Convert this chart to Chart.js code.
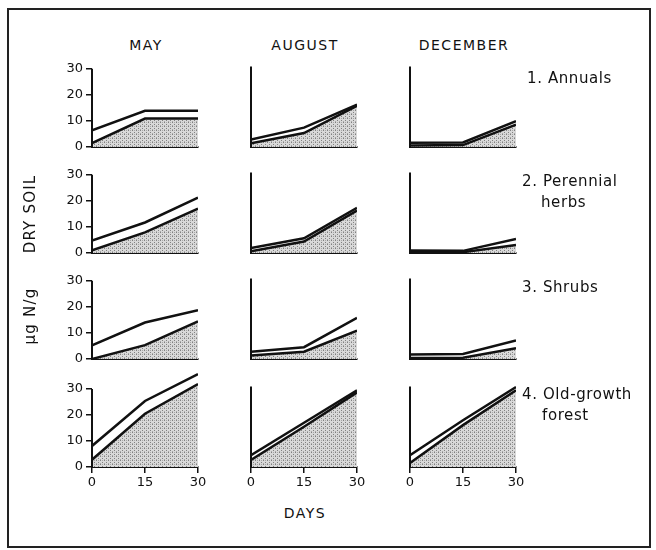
<!DOCTYPE html>
<html>
<head>
<meta charset="utf-8">
<script src="https://cdn.jsdelivr.net/npm/chart.js@4.4.1/dist/chart.umd.min.js"></script>
<style>
  body { margin: 0; background: #fff; }
  #fig { position: relative; width: 656px; height: 550px; font-family: "DejaVu Sans", sans-serif; color: #111; }
  #frame { position: absolute; left: 7px; top: 8px; width: 640px; height: 536px; border: 2px solid #222; }
  .lbl { position: absolute; font-size: 14px; white-space: nowrap; line-height: 1; }
  .c { transform: translate(-50%, -50%); letter-spacing: 1.5px; }
  .r { transform: translate(0, -50%); font-size: 15px; letter-spacing: 0.6px; }
  .v { transform: translate(-50%, -50%) rotate(-90deg); letter-spacing: 1.2px; font-size: 15px; }
  canvas { position: absolute; }
</style>
</head>
<body>
<div id="fig">
  <div id="frame"></div>
</div>
<script>
// x axis (days) and y ticks
const days = [0, 15, 30];
const yTicks = [0, 10, 20, 30];
const months = ["MAY", "AUGUST", "DECEMBER"];
const groups = [["1. Annuals"], ["2. Perennial", "herbs"], ["3. Shrubs"], ["4. Old-growth", "forest"]];

// ug N/g dry soil, one array per month (MAY, AUGUST, DECEMBER), values at days 0,15,30
// upper line = open line, lower line = stippled area
const annualsUpper = [[6.4, 13.9, 13.9], [2.8, 7.2, 15.8], [1.6, 1.7, 9.6]];
const annualsLower = [[1.5, 10.9, 10.9], [1.4, 5.2, 15.3], [0.6, 0.7, 8.3]];
const herbsUpper   = [[4.8, 11.7, 21.2], [1.9, 5.5, 16.8], [0.9, 0.8, 5.2]];
const herbsLower   = [[1.0, 7.9, 17.0], [0.6, 4.3, 15.8], [0.4, 0.3, 3.0]];
const shrubsUpper  = [[5.2, 14.0, 18.7], [2.7, 4.4, 15.3], [1.7, 1.9, 6.9]];
const shrubsLower  = [[0.0, 5.3, 14.4], [1.3, 2.7, 10.6], [0.4, 0.5, 4.0]];
const forestUpper  = [[8.1, 25.4, 35.7], [4.4, 16.5, 28.6], [4.4, 17.4, 29.8]];
const forestLower  = [[2.8, 20.5, 31.9], [2.6, 15.0, 27.8], [1.5, 15.6, 28.6]];

const upperRows = [annualsUpper, herbsUpper, shrubsUpper, forestUpper];
const lowerRows = [annualsLower, herbsLower, shrubsLower, forestLower];

// panel placement (page pixels)
const colX0 = [92, 251, 410];          // day 0
const colW = 106;                      // 0..30 days
const rowY0 = [147, 253, 359, 467];    // value 0
const px30 = 80.5;                     // height of 0..30
const rowMax = [30, 30, 30, 37];
const AXW = 32, AXH = 24, PADT = 8, PADR = 14;

const fig = document.getElementById("fig");
const ink = "#111";

// stipple fill
const pc = document.createElement("canvas");
pc.width = 4; pc.height = 4;
const p = pc.getContext("2d");
p.fillStyle = "#d9d9d9"; p.fillRect(0, 0, 4, 4);
p.fillStyle = "#808080"; p.fillRect(0, 0, 1, 1); p.fillRect(2, 2, 1, 1);
p.fillStyle = "#a8a8a8"; p.fillRect(2, 0, 1, 1); p.fillRect(0, 3, 1, 1);
const stipple = p.createPattern(pc, "repeat");

// y axis line only from 0 to 30
const axisLine = {
  id: "axisLine",
  afterDraw(chart) {
    const { ctx, scales: { x, y } } = chart;
    const x0 = x.getPixelForValue(0);
    ctx.save();
    ctx.strokeStyle = ink;
    ctx.lineWidth = 2;
    ctx.beginPath();
    ctx.moveTo(x0, y.getPixelForValue(0) + 1);
    ctx.lineTo(x0, y.getPixelForValue(30));
    ctx.stroke();
    ctx.restore();
  }
};

function addLabel(text, x, y, cls) {
  const d = document.createElement("div");
  d.className = "lbl " + cls;
  d.style.left = x + "px";
  d.style.top = y + "px";
  d.textContent = text;
  fig.appendChild(d);
}

// panels
for (let r = 0; r < 4; r++) {
  for (let c = 0; c < 3; c++) {
    const chartH = rowMax[r] / 30 * px30;
    const cv = document.createElement("canvas");
    cv.width = AXW + colW + PADR;
    cv.height = Math.round(PADT + chartH + AXH);
    cv.style.left = (colX0[c] - AXW) + "px";
    cv.style.top = (rowY0[r] + AXH - cv.height) + "px";
    fig.appendChild(cv);

    const up = upperRows[r][c], lo = lowerRows[r][c];
    new Chart(cv, {
      type: "line",
      data: {
        datasets: [
          {
            data: days.map((d, i) => ({ x: d, y: up[i] })),
            borderColor: ink, borderWidth: 2.5, fill: false,
            pointRadius: 0, tension: 0
          },
          {
            data: days.map((d, i) => ({ x: d, y: lo[i] })),
            borderColor: ink, borderWidth: 2.5, fill: "origin",
            backgroundColor: stipple, pointRadius: 0, tension: 0
          }
        ]
      },
      options: {
        responsive: false,
        animation: false,
        devicePixelRatio: 1,
        layout: { padding: { top: PADT + (cv.height - (PADT + chartH + AXH)), right: PADR, left: 0, bottom: 0 } },
        plugins: { legend: { display: false }, tooltip: { enabled: false } },
        scales: {
          x: {
            type: "linear", min: 0, max: 30,
            afterFit(s) { s.height = AXH; },
            afterBuildTicks(s) { s.ticks = days.map(v => ({ value: v })); },
            grid: { drawOnChartArea: false, drawTicks: r === 3, tickLength: 6, color: ink, lineWidth: 1.5 },
            border: { display: true, color: ink, width: 2 },
            ticks: { display: r === 3, color: ink, maxRotation: 0, padding: 2,
                     font: { family: "DejaVu Sans", size: 13 } }
          },
          y: {
            min: 0, max: rowMax[r],
            afterFit(s) { s.width = AXW; },
            afterBuildTicks(s) { s.ticks = yTicks.map(v => ({ value: v })); },
            grid: { drawOnChartArea: false, drawTicks: c === 0, tickLength: 6, color: ink, lineWidth: 1.5 },
            border: { display: false },
            ticks: { display: c === 0, color: ink, padding: 3,
                     font: { family: "DejaVu Sans", size: 13 } }
          }
        }
      },
      plugins: [axisLine]
    });
  }
}

// titles and labels
months.forEach((m, c) => addLabel(m, colX0[c] + colW / 2 + 1, 45, "c"));
addLabel(groups[0][0], 527, 78, "r");
addLabel(groups[1][0], 522, 181, "r");
addLabel(groups[1][1], 541, 202, "r");
addLabel(groups[2][0], 522, 287, "r");
addLabel(groups[3][0], 522, 394, "r");
addLabel(groups[3][1], 542, 415, "r");
addLabel("DAYS", 305, 513, "c");
addLabel("DRY SOIL", 30, 214, "v");
addLabel("µg N/g", 30, 316, "v");
</script>
</body>
</html>
